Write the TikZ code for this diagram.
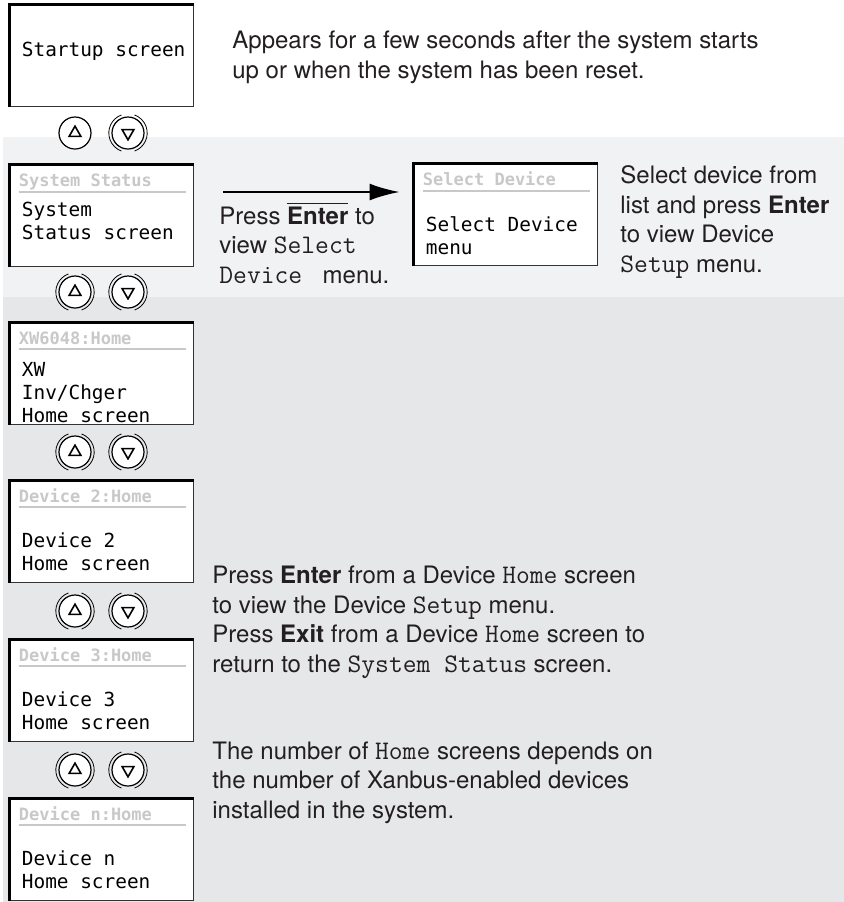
\documentclass[tikz,border=0pt]{standalone}
\usepackage{fontspec}
\setmainfont{TeX Gyre Heros}
\newfontfamily\lcdfont{DejaVu Sans Mono}
\usetikzlibrary{shapes.geometric,arrows.meta,positioning}
\definecolor{bandtop}{HTML}{F1F2F4}
\definecolor{bandlow}{HTML}{E6E7E9}
\definecolor{lcdgrey}{HTML}{C8C8C8}
\definecolor{ink}{HTML}{231F20}
\newcommand{\cmd}[1]{{\ttfamily\fontsize{13.4}{14.75}\selectfont #1}}
\newcommand{\key}[1]{\textbf{#1}}
\newcommand{\barkey}[1]{$\overline{\hbox{\bfseries #1}}$}
\tikzset{screen/.style = {draw=black!80, line width=0.5pt, fill=white, minimum width=91.5pt, minimum height=50.75pt, inner sep=0pt},
         lcd/.style = {font=\fontsize{9.7}{11.5}\selectfont\lcdfont, align=left, anchor=base west, inner sep=0pt},
         lcdhead/.style = {font=\fontsize{8.5}{10}\selectfont\lcdfont\bfseries, text=lcdgrey, anchor=base west, inner sep=0pt},
         note/.style = {font=\fontsize{12}{14.75}\selectfont, text=ink, align=left, anchor=base west, inner sep=0pt},
         btn/.style = {draw, circle, line width=0.6pt, minimum size=16pt, inner sep=0pt, fill=white},
         tri/.style = {draw, regular polygon, regular polygon sides=3, line width=0.8pt, minimum size=6.8pt, inner sep=0pt},
}

\begin{document}
\begin{tikzpicture}[x=0.5pt, y=-0.5pt]
  \useasboundingbox (0,0) rectangle (844,902);
  % background bands
  \fill[bandtop] (3,137) rectangle (844,297);
  \fill[bandlow] (3,297) rectangle (844,902);

  % screens
  \node[screen] (start) at (101.5,56) {};
  \node[screen] (sys) at (101.5,216) {};
  \node[screen] (sel) at (505.5,215) {};
  \node[screen] (xw) at (101.5,373.5) {};
  \node[screen] (dev2) at (101.5,531.5) {};
  \node[screen] (dev3) at (101.5,690.5) {};
  \node[screen] (devn) at (101.5,849.5) {};

  \foreach \s in {start,sys,sel,xw,dev2,dev3,devn}
    \draw[line width=1.5pt] (\s.south west) -- (\s.north west) -- (\s.north east);

  \foreach \s/\h in {sys/System Status, sel/Select Device, xw/XW6048:Home, dev2/Device 2:Home, dev3/Device 3:Home, devn/Device n:Home} {
    \node[lcdhead] (\s-head) at ([xshift=4.5pt,yshift=-11pt]\s.north west) {\h};
    \draw[lcdgrey, line width=1pt] ([xshift=4.5pt,yshift=-13.5pt]\s.north west) -- ([xshift=-4pt,yshift=-13.5pt]\s.north east);
  }

  % screen texts (anchored at the last line)
  \node[lcd] (start-txt) at ([xshift=6pt,yshift=-26pt]start.north west) {Startup screen};
  \node[lcd] (sys-txt) at ([xshift=6pt,yshift=-37.5pt]sys.north west) {System\\Status screen};
  \node[lcd] (sel-txt) at ([xshift=6pt,yshift=-45.5pt]sel.north west) {Select Device\\menu};
  \node[lcd] (xw-txt) at ([xshift=6pt,yshift=-50pt]xw.north west) {XW\\Inv/Chger\\Home screen};
  \node[lcd] (dev2-txt) at ([xshift=6pt,yshift=-45pt]dev2.north west) {Device 2\\Home screen};
  \node[lcd] (dev3-txt) at ([xshift=6pt,yshift=-45pt]dev3.north west) {Device 3\\Home screen};
  \node[lcd] (devn-txt) at ([xshift=6pt,yshift=-45pt]devn.north west) {Device n\\Home screen};

  % up / down buttons
  \foreach \y [count=\i] in {133,292,452,611,770} {
    \node[btn] (up\i) at (75,\y) {};
    \node[btn] (dn\i) at (128,\y) {};
    \node[tri] at (up\i) {};
    \node[tri, shape border rotate=180] at (dn\i) {};
    \draw[line width=0.4pt] ([shift={(110:9.6pt)}]dn\i.center) arc[start angle=110, end angle=250, radius=9.6pt];
    \draw[line width=0.4pt] ([shift={(-70:9.6pt)}]dn\i.center) arc[start angle=-70, end angle=70, radius=9.6pt];
  }
  \foreach \i in {2,...,5} {
    \draw[line width=0.4pt] ([shift={(110:9.6pt)}]up\i.center) arc[start angle=110, end angle=250, radius=9.6pt];
    \draw[line width=0.4pt] ([shift={(-70:9.6pt)}]up\i.center) arc[start angle=-70, end angle=70, radius=9.6pt];
  }

  % arrow to the Select Device menu
  \coordinate (arrowtail) at (223,192);
  \draw[line width=1pt, -{Latex[length=15pt,width=8.5pt]}] (arrowtail) -- ([xshift=-7pt]sel.west |- arrowtail);

  % notes (anchored at the last line)
  \node[note] (note-start) at (232,78) {Appears for a few seconds after the system starts\\up or when the system has been reset.};
  \node[note] (note-enter) at (219,283) {Press \barkey{Enter} to\\view \cmd{Select}\\\cmd{Device\ } menu.};
  \node[note] (note-sel) at (620,272) {Select device from\\list and press \key{Enter}\\to view Device\\\cmd{Setup} menu.};
  \node[note] (note-home) at (212,672) {Press \key{Enter} from a Device \cmd{Home} screen\\to view the Device \cmd{Setup} menu.\\Press \key{Exit} from a Device \cmd{Home} screen to\\return to the \cmd{System Status} screen.};
  \node[note] (note-count) at (212,818) {The number of \cmd{Home} screens depends on\\the number of Xanbus-enabled devices\\installed in the system.};
\end{tikzpicture}
\end{document}
